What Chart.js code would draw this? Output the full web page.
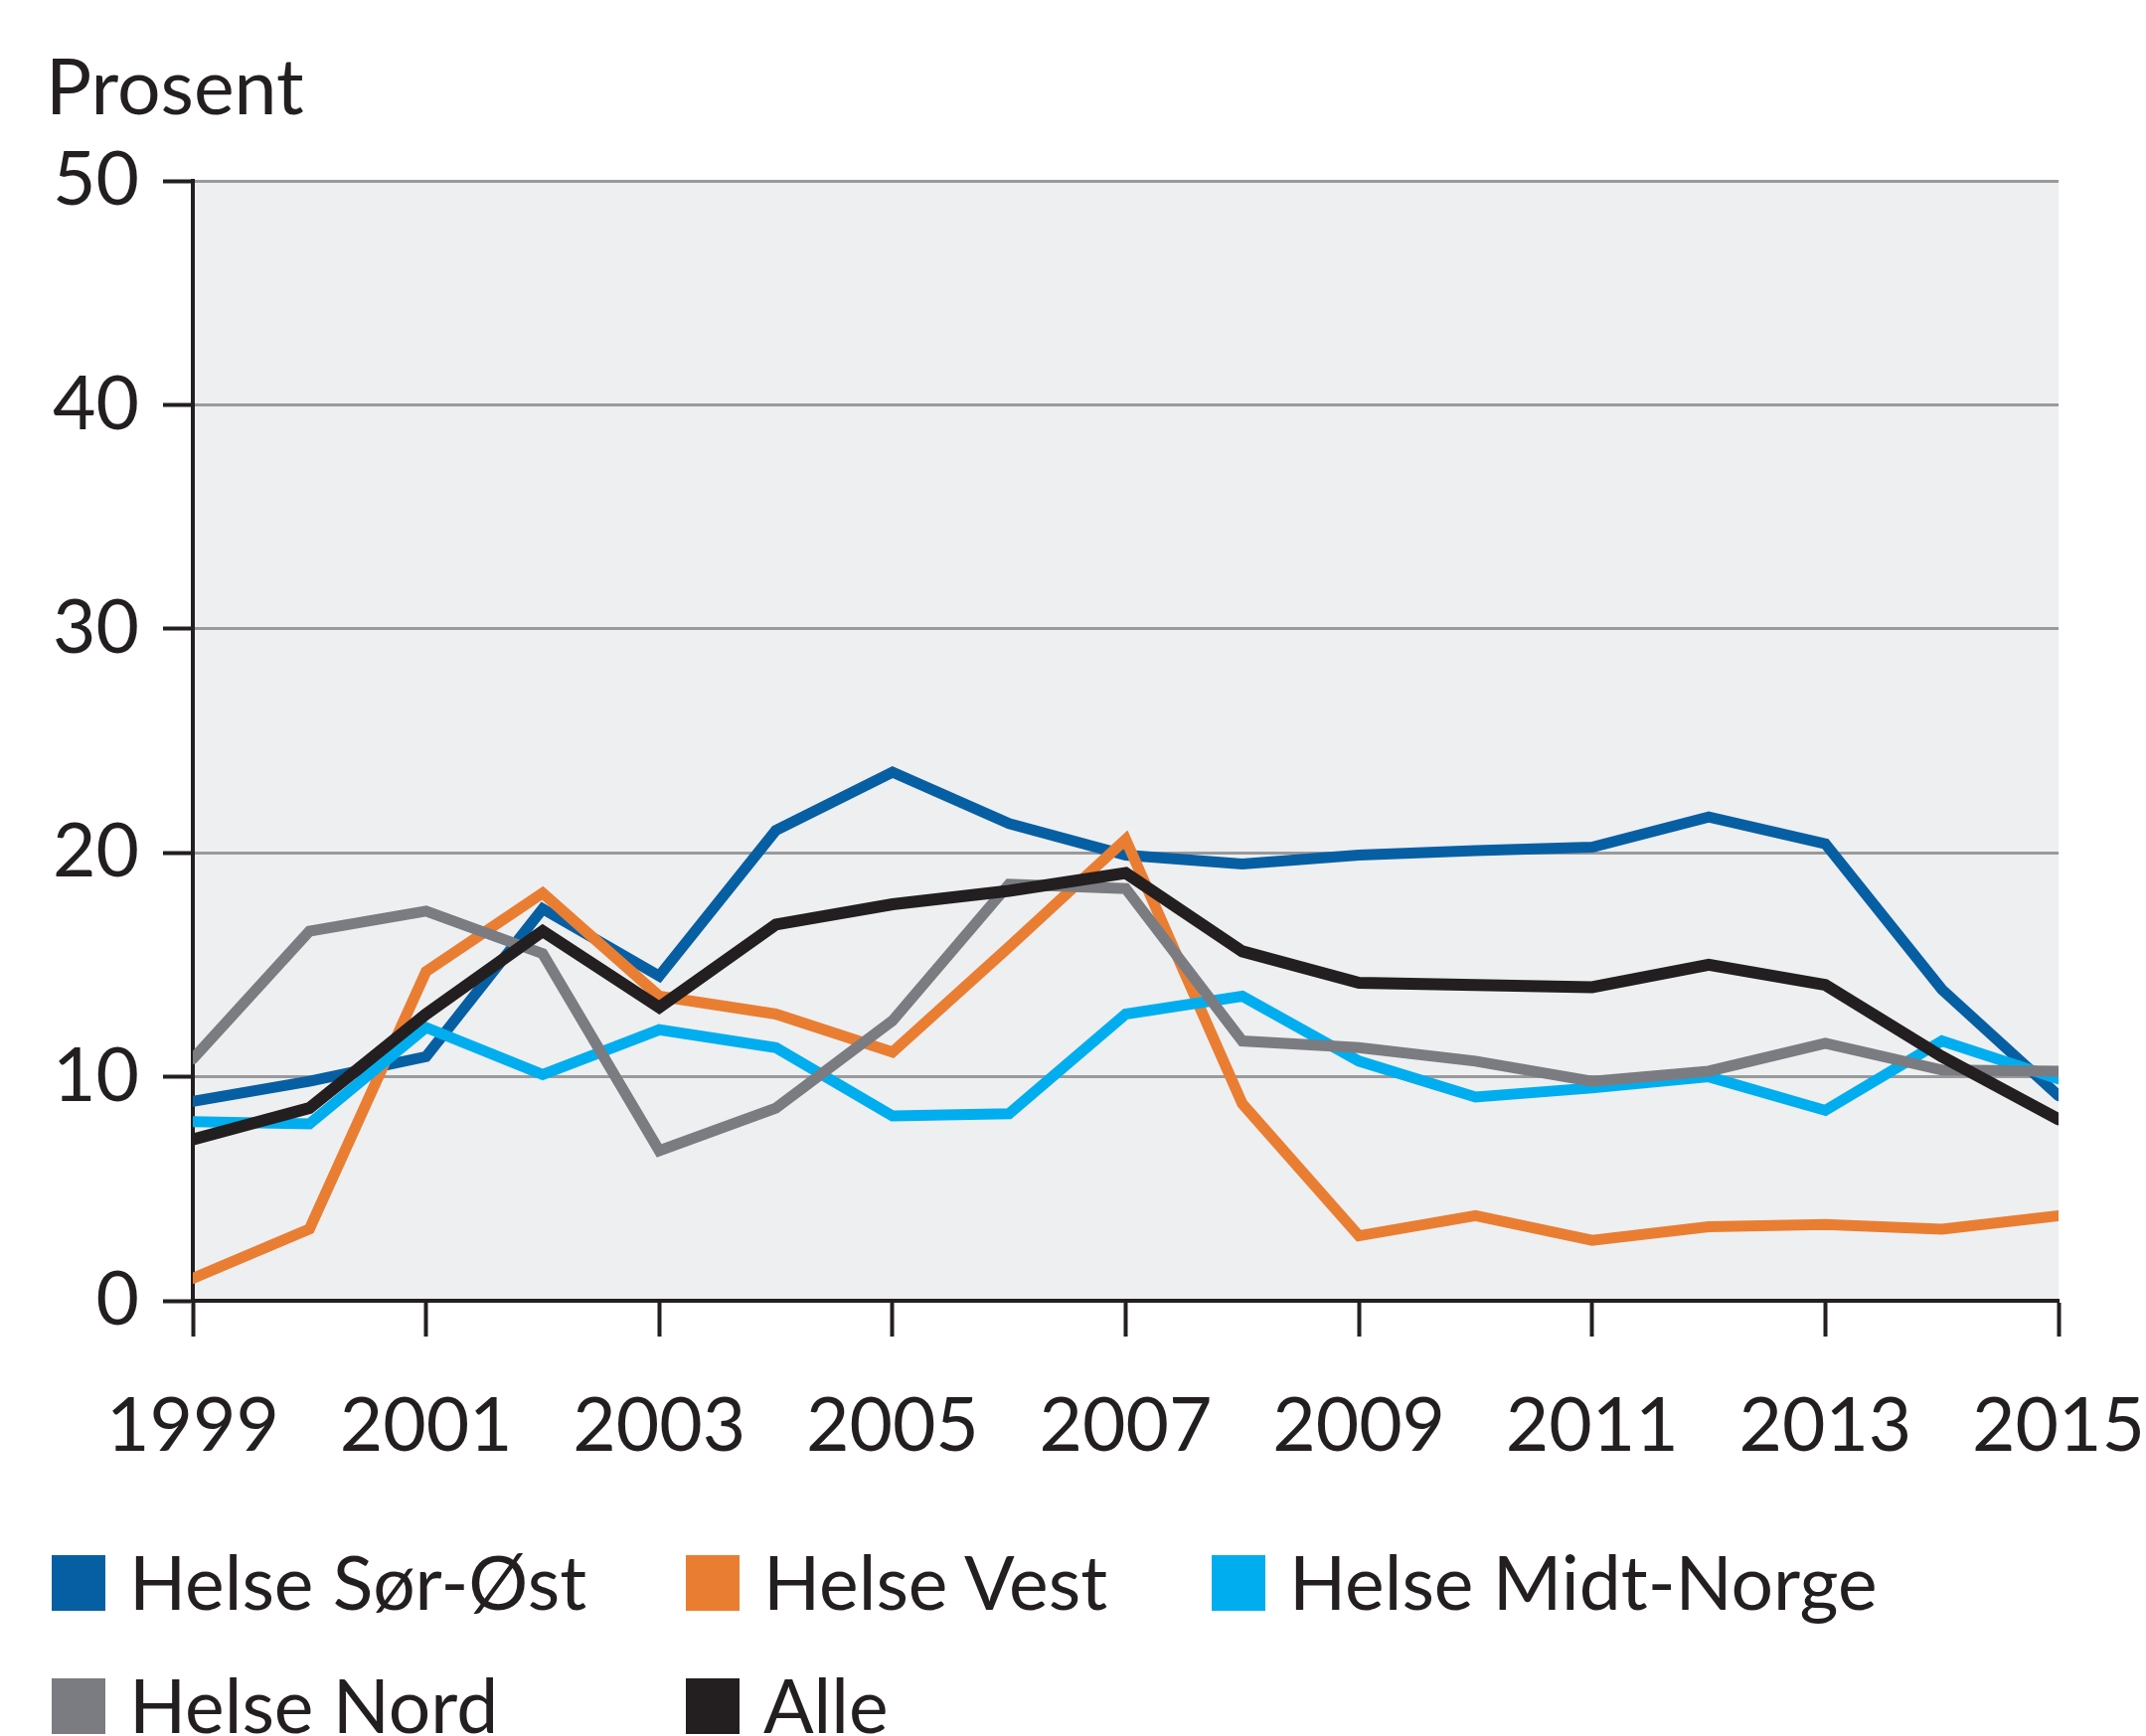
<!DOCTYPE html>
<html>
<head>
<meta charset="utf-8">
<script src="https://cdn.jsdelivr.net/npm/chart.js@4.4.0/dist/chart.umd.min.js"></script>
<style>
  body { margin: 0; background: #fff; }
  #wrap { position: relative; width: 2159px; height: 1747px; font-family: Lato, "Open Sans", sans-serif; color: #231F20; }
  #myChart { position: absolute; left: 0; top: 0; }
  .txt { position: absolute; font-size: 75px; line-height: 1; white-space: nowrap; }
  .box { position: absolute; width: 54px; height: 56px; }
</style>
</head>
<body>
<div id="wrap">
  <canvas id="myChart" width="2159" height="1747"></canvas>
  <div class="txt" style="left:46px; top:47px; font-size:77px;">Prosent</div>
  <div id="legend"></div>
</div>
<script>
var years = [1999, 2000, 2001, 2002, 2003, 2004, 2005, 2006, 2007, 2008, 2009, 2010, 2011, 2012, 2013, 2014, 2015];
var seriesNames = ["Helse Sør-Øst", "Helse Vest", "Helse Midt-Norge", "Helse Nord", "Alle"];
var sorOst = [8.9, 9.8, 10.9, 17.5, 14.5, 21.0, 23.6, 21.3, 19.9, 19.5, 19.9, 20.1, 20.25, 21.6, 20.4, 13.9, 9.15];
var vest   = [1.0, 3.2, 14.7, 18.2, 13.6, 12.8, 11.1, 15.8, 20.6, 8.8, 2.9, 3.8, 2.7, 3.3, 3.4, 3.2, 3.8];
var midt   = [8.0, 7.9, 12.2, 10.1, 12.1, 11.3, 8.25, 8.35, 12.8, 13.6, 10.7, 9.1, 9.5, 10.0, 8.5, 11.6, 9.9];
var nord   = [10.8, 16.5, 17.4, 15.5, 6.7, 8.6, 12.5, 18.6, 18.4, 11.6, 11.3, 10.7, 9.8, 10.25, 11.5, 10.3, 10.25];
var alle   = [7.2, 8.6, 12.8, 16.5, 13.1, 16.8, 17.7, 18.3, 19.1, 15.6, 14.2, 14.1, 14.0, 15.0, 14.1, 10.9, 8.1];
var yTicks = [0, 10, 20, 30, 40, 50];

var colors = ["#075FA3", "#E97E33", "#00AEEF", "#7B7C81", "#231F20"];
var allSeries = [sorOst, vest, midt, nord, alle];

function toPoints(arr) {
    var pts = [];
    for (var i = 0; i < years.length; i++) {
        pts.push({ x: years[i], y: arr[i] });
    }
    return pts;
}

var datasets = [];
for (var s = 0; s < allSeries.length; s++) {
    datasets.push({
        label: seriesNames[s],
        data: toPoints(allSeries[s]),
        borderColor: colors[s],
        backgroundColor: colors[s],
        borderWidth: s == 4 ? 12 : 11,
        pointRadius: 0,
        tension: 0,
        borderCapStyle: 'round',
        order: allSeries.length - s
    });
}

// plot area background
var plotBg = {
    id: 'plotBg',
    beforeDraw: function (chart) {
        var a = chart.chartArea, c = chart.ctx;
        c.save();
        c.fillStyle = '#EEEFF1';
        c.fillRect(a.left, a.top, a.right - a.left, a.bottom - a.top);
        c.restore();
    }
};

var ctx = document.getElementById('myChart').getContext('2d');
var chart = new Chart(ctx, {
    type: 'line',
    data: { datasets: datasets },
    plugins: [plotBg],
    options: {
        responsive: false,
        animation: false,
        devicePixelRatio: 1,
        layout: { padding: { top: 182, right: 88, left: 0, bottom: 0 } },
        plugins: { legend: { display: false }, tooltip: { enabled: false } },
        scales: {
            x: {
                type: 'linear',
                min: years[0],
                max: years[years.length - 1],
                afterFit: function (scale) {
                    scale.height = 1747 - 1309;
                    scale.paddingLeft = 0;
                    scale.paddingRight = 0;
                },
                ticks: {
                    stepSize: 2,
                    color: '#231F20',
                    padding: 46,
                    font: { family: 'Lato', size: 75 },
                    maxRotation: 0,
                    callback: function (v) { return String(v); }
                },
                grid: {
                    drawOnChartArea: false,
                    drawTicks: true,
                    tickLength: 36,
                    tickColor: '#231F20',
                    tickWidth: 4
                },
                border: { color: '#231F20', width: 4 }
            },
            y: {
                min: 0,
                max: 50,
                afterFit: function (scale) { scale.width = 194; },
                afterBuildTicks: function (scale) {
                    scale.ticks = yTicks.map(function (v) { return { value: v }; });
                },
                ticks: {
                    color: '#231F20',
                    padding: 24,
                    font: { family: 'Lato', size: 75 }
                },
                grid: {
                    color: '#9A9A9C',
                    lineWidth: 3,
                    tickLength: 30,
                    tickColor: '#231F20',
                    tickWidth: 4
                },
                border: { color: '#231F20', width: 4 }
            }
        }
    }
});

// legend as html, two rows
var legendPos = [[52, 1565], [690, 1565], [1219, 1565], [52, 1689], [690, 1689]];
var lg = document.getElementById('legend');
for (var k = 0; k < seriesNames.length; k++) {
    var b = document.createElement('div');
    b.className = 'box';
    b.style.left = legendPos[k][0] + 'px';
    b.style.top = legendPos[k][1] + 'px';
    b.style.background = colors[k];
    lg.appendChild(b);
    var t = document.createElement('div');
    t.className = 'txt';
    t.style.left = (legendPos[k][0] + 78) + 'px';
    t.style.top = (legendPos[k][1] - 11) + 'px';
    t.textContent = seriesNames[k];
    lg.appendChild(t);
}
</script>
</body>
</html>
